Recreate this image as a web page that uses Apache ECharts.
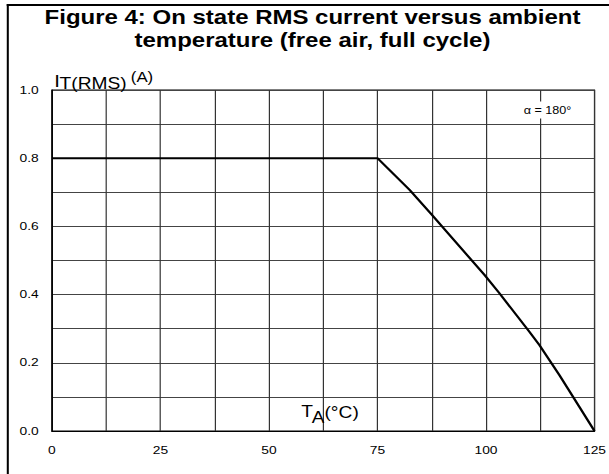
<!DOCTYPE html>
<html><head><meta charset="utf-8">
<script src="https://cdn.jsdelivr.net/npm/echarts@6.0.0/dist/echarts.min.js"></script>
<style>
html,body{margin:0;padding:0;background:#fff;overflow:hidden}
#wrap{width:609px;height:474px;overflow:hidden;position:relative;background:#fff}
#c{width:508px;height:474px;transform:scaleX(1.2);transform-origin:0 0;}
</style></head><body><div id="wrap"><div id="c"></div></div>
<script>
// Data
const temperature = [0, 75, 82.4, 87.4, 99.7, 103.1, 110, 112.3, 116.9, 121.5, 125];
const currentRMS  = [0.8, 0.8, 0.707, 0.636, 0.457, 0.404, 0.291, 0.252, 0.164, 0.071, 0];
const xTickLabels = [0, 25, 50, 75, 100, 125];
const yTickLabels = ['0.0', '0.2', '0.4', '0.6', '0.8', '1.0'];
const titleLines = ['Figure 4: On state RMS current versus ambient', 'temperature (free air, full cycle)'];

const FONT = '"Liberation Sans", Arial, sans-serif';
const chart = echarts.init(document.getElementById('c'), null, {renderer: 'svg'});

const seriesData = temperature.map((t, i) => [t, currentRMS[i]]);

chart.setOption({
  animation: false,
  backgroundColor: '#fff',
  grid: {left: 43.3, right: 12.2, top: 90, bottom: 43, show: true, borderColor: '#000', borderWidth: 1, containLabel: false},
  xAxis: {
    type: 'value', min: 0, max: 125, interval: 12.5,
    axisLine: {show: true, lineStyle: {color: '#000', width: 1.2}},
    axisTick: {show: false},
    splitLine: {show: true, lineStyle: {color: '#333', width: 1}},
    axisLabel: {
      margin: 13, color: '#000', fontFamily: FONT, fontSize: 11.5,
      formatter: v => xTickLabels.indexOf(v) >= 0 ? String(v) : ''
    }
  },
  yAxis: {
    type: 'value', min: 0, max: 1, interval: 0.1,
    axisLine: {show: true, lineStyle: {color: '#000', width: 1.2}},
    axisTick: {show: false},
    splitLine: {show: true, lineStyle: {color: '#444', width: 1}},
    axisLabel: {
      margin: 11, color: '#000', fontFamily: FONT, fontSize: 11.5,
      formatter: v => { const s = v.toFixed(1); return yTickLabels.indexOf(s) >= 0 ? s : ''; }
    }
  },
  series: [{
    type: 'line', data: seriesData, showSymbol: false, smooth: false,
    lineStyle: {color: '#000', width: 2}, z: 5
  }],
  graphic: [
    {type: 'line', z: 20, shape: {x1: 6.5, y1: 4, x2: 6.5, y2: 474}, style: {stroke: '#000', lineWidth: 1.7}},
    {type: 'line', z: 20, shape: {x1: 5.6, y1: 5, x2: 508, y2: 5}, style: {stroke: '#000', lineWidth: 2}},
    {type: 'text', z: 20, x: 260.4, y: 5.5, style: {text: titleLines.join('\n'), fontFamily: FONT, fontWeight: 'bold', fontSize: 20, lineHeight: 23, align: 'center', verticalAlign: 'top', fill: '#000'}},
    {type: 'text', z: 20, x: 45.2, y: 81, style: {text: 'I', fontFamily: FONT, fontSize: 17, align: 'left', verticalAlign: 'middle', fill: '#000'}},
    {type: 'text', z: 20, x: 49.6, y: 84, style: {text: 'T(RMS)', fontFamily: FONT, fontSize: 16, align: 'left', verticalAlign: 'middle', fill: '#000'}},
    {type: 'text', z: 20, x: 109, y: 77, style: {text: '(A)', fontFamily: FONT, fontSize: 14, align: 'left', verticalAlign: 'middle', fill: '#000'}},
    {type: 'text', z: 20, x: 251, y: 412, style: {text: 'T', fontFamily: FONT, fontSize: 16, align: 'left', verticalAlign: 'middle', fill: '#000'}},
    {type: 'text', z: 20, x: 259.8, y: 417.5, style: {text: 'A', fontFamily: FONT, fontSize: 16, align: 'left', verticalAlign: 'middle', fill: '#000'}},
    {type: 'text', z: 20, x: 270.4, y: 413, style: {text: '(°C)', fontFamily: FONT, fontSize: 16, align: 'left', verticalAlign: 'middle', fill: '#000', backgroundColor: '#fff', padding: [8, 0, 6, 0]}},
    {type: 'text', z: 20, x: 456.25, y: 110, style: {text: 'α = 180°', fontFamily: FONT, fontSize: 10.5, align: 'center', verticalAlign: 'middle', fill: '#000', backgroundColor: '#fff', padding: [3, 1]}}
  ]
});
</script>
</body></html>
